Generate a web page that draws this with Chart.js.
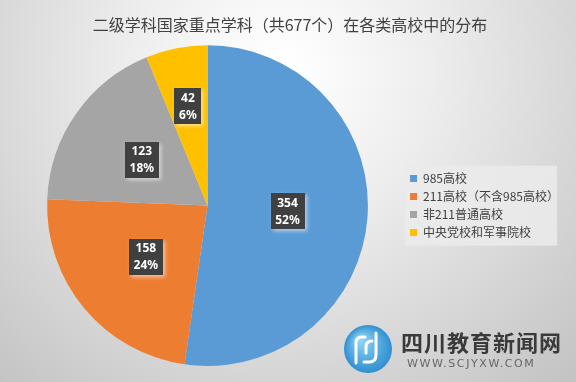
<!DOCTYPE html>
<html>
<head>
<meta charset="utf-8">
<script src="https://cdn.jsdelivr.net/npm/chart.js@4.4.1/dist/chart.umd.min.js"></script>
<style>
  html, body { margin: 0; padding: 0; background: #ffffff; }
  #wrap { width: 576px; height: 382px; position: relative; }
</style>
</head>
<body>
<div id="wrap"><canvas id="c" width="576" height="382"></canvas></div>
<script>
const titleText = '二级学科国家重点学科（共677个）在各类高校中的分布';
const categories = ['985高校', '211高校（不含985高校）', '非211普通高校', '中央党校和军事院校'];
const counts = [354, 158, 123, 42];
const percentLabels = ['52%', '24%', '18%', '6%'];
const sliceColors = ['#5B9BD5', '#ED7D31', '#A5A5A5', '#FFC000'];
const watermarkName = '四川教育新闻网';
const watermarkUrl = 'WWW.SCJYXW.COM';

const CJK = '"Noto Sans CJK SC", "Noto Sans", sans-serif';

const backgroundPlugin = {
  id: 'bgPlugin',
  beforeDraw(chart) {
    const ctx = chart.ctx;
    const w = chart.width, h = chart.height;
    ctx.save();
    const g = ctx.createRadialGradient(280, 70, 10, 280, 70, 420);
    g.addColorStop(0, '#ffffff');
    g.addColorStop(0.35, '#ededed');
    g.addColorStop(1, '#c4c4c4');
    ctx.fillStyle = g;
    ctx.fillRect(0, 0, w, h);
    // legend panel
    const lg = chart.legend;
    if (lg && lg.legendHitBoxes && lg.legendHitBoxes.length) {
      const hb = lg.legendHitBoxes;
      const x0 = hb[0].left - 5;
      const y0 = hb[0].top - 7;
      const last = hb[hb.length - 1];
      const y1 = last.top + last.height + 7;
      ctx.fillStyle = 'rgba(235,235,235,0.85)';
      ctx.fillRect(x0, y0, 152, y1 - y0);
    }
    ctx.restore();
  }
};

const labelPlugin = {
  id: 'sliceLabels',
  afterDatasetsDraw(chart, args, opts) {
    const ctx = chart.ctx;
    const meta = chart.getDatasetMeta(0);
    const ds = chart.data.datasets[0];
    ctx.save();
    ctx.font = 'bold 12px "Noto Sans", "DejaVu Sans", sans-serif';
    meta.data.forEach((arc, i) => {
      const p = arc.getProps(['x', 'y', 'startAngle', 'endAngle', 'outerRadius'], true);
      const mid = (p.startAngle + p.endAngle) / 2;
      const frac = (opts.radiusFrac && opts.radiusFrac[i]) || 0.5;
      const cx = p.x + Math.cos(mid) * p.outerRadius * frac;
      const cy = p.y + Math.sin(mid) * p.outerRadius * frac;
      const l1 = String(ds.data[i]);
      const l2 = percentLabels[i];
      const tw = Math.max(ctx.measureText(l1).width, ctx.measureText(l2).width);
      const bw = Math.round(tw + 9), bh = 36;
      ctx.save();
      ctx.shadowColor = 'rgba(255,255,255,0.55)';
      ctx.shadowBlur = 4;
      ctx.shadowOffsetX = 2;
      ctx.shadowOffsetY = 2;
      ctx.fillStyle = '#404040';
      ctx.fillRect(Math.round(cx - bw / 2), Math.round(cy - bh / 2), bw, bh);
      ctx.restore();
      ctx.fillStyle = '#ffffff';
      ctx.textAlign = 'center';
      ctx.textBaseline = 'middle';
      ctx.fillText(l1, cx, cy - 8);
      ctx.fillText(l2, cx, cy + 9);
    });
    ctx.restore();
  }
};

const watermarkPlugin = {
  id: 'watermark',
  afterDraw(chart) {
    const ctx = chart.ctx;
    ctx.save();
    // logo circle
    const lx = 368, ly = 349, lr = 24;
    const g = ctx.createRadialGradient(lx - 8, ly - 10, 2, lx, ly, lr);
    g.addColorStop(0, '#8fd3f5');
    g.addColorStop(1, '#2f8fd0');
    ctx.beginPath();
    ctx.arc(lx, ly, lr, 0, Math.PI * 2);
    ctx.fillStyle = g;
    ctx.fill();
    ctx.strokeStyle = '#ffffff';
    ctx.lineWidth = 3;
    ctx.lineCap = 'round';
    ctx.beginPath();
    ctx.moveTo(lx - 12, ly + 14);
    ctx.lineTo(lx - 12, ly - 6);
    ctx.quadraticCurveTo(lx - 12, ly - 12, lx - 6, ly - 12);
    ctx.lineTo(lx - 3, ly - 12);
    ctx.stroke();
    ctx.beginPath();
    ctx.moveTo(lx - 2, ly + 4);
    ctx.lineTo(lx - 2, ly - 2);
    ctx.quadraticCurveTo(lx - 2, ly - 8, lx + 4, ly - 8);
    ctx.stroke();
    ctx.beginPath();
    ctx.moveTo(lx + 8, ly - 16);
    ctx.lineTo(lx + 8, ly + 6);
    ctx.quadraticCurveTo(lx + 8, ly + 13, lx + 1, ly + 13);
    ctx.lineTo(lx - 4, ly + 13);
    ctx.stroke();
    // name
    ctx.fillStyle = '#3a3a3a';
    ctx.font = 'bold 22px "Noto Sans CJK SC", sans-serif';
    ctx.textBaseline = 'middle';
    ctx.textAlign = 'left';
    if ('letterSpacing' in ctx) ctx.letterSpacing = '1px';
    ctx.fillText(watermarkName, 401, 343);
    ctx.fillStyle = '#666666';
    ctx.font = '11px "DejaVu Sans", sans-serif';
    if ('letterSpacing' in ctx) ctx.letterSpacing = '1.6px';
    ctx.fillText(watermarkUrl, 407, 364);
    ctx.restore();
  }
};

new Chart(document.getElementById('c'), {
  type: 'pie',
  data: {
    labels: categories,
    datasets: [{
      data: counts,
      backgroundColor: sliceColors,
      borderWidth: 0,
      hoverOffset: 0
    }]
  },
  options: {
    responsive: false,
    animation: false,
    devicePixelRatio: 1,
    layout: { padding: { left: 11, right: 7, top: 0, bottom: 16 } },
    plugins: {
      title: {
        display: true,
        text: titleText,
        color: '#404040',
        font: { family: CJK, size: 16, weight: 'normal' },
        padding: { top: 15, bottom: 11 }
      },
      legend: {
        position: 'right',
        align: 'center',
        fullSize: false,
        labels: {
          boxWidth: 7,
          boxHeight: 7,
          padding: 6,
          color: '#404040',
          font: { family: CJK, size: 12 }
        }
      },
      tooltip: { enabled: false },
      sliceLabels: { radiusFrac: [0.5, 0.5, 0.5, 0.63] }
    }
  },
  plugins: [backgroundPlugin, labelPlugin, watermarkPlugin]
});
</script>
</body>
</html>
